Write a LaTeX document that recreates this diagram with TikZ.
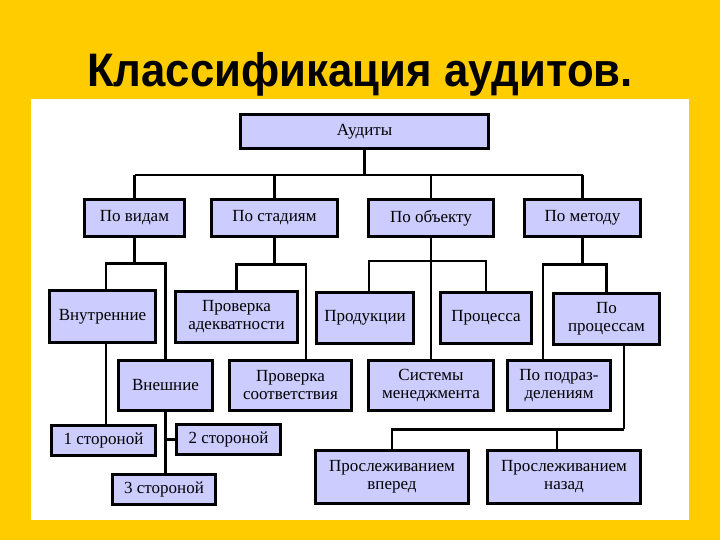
\documentclass[tikz,border=0pt]{standalone}
\usepackage{fontspec}
\setmainfont{Liberation Serif}
\newfontfamily\titlefont[FakeStretch=0.93]{Liberation Sans}
\usetikzlibrary{calc}
\definecolor{slideyellow}{HTML}{FFCC00}
\definecolor{boxlilac}{HTML}{CCCCFF}
\tikzset{
  auditbox/.style={draw=black, fill=boxlilac, line width=3.2pt, align=center,
    inner sep=2pt, font=\fontsize{17}{18}\selectfont},
  link/.style={draw=black, line width=2.8pt},
  slidetitle/.style={font=\titlefont\bfseries\fontsize{47}{47}\selectfont, anchor=base},
}
\begin{document}
\begin{tikzpicture}[x=1pt, y=-1pt]
  \fill[slideyellow] (0,0) rectangle (720,540);
  \useasboundingbox (0,0) rectangle (720,540);
  \fill[white] (31,99) rectangle (689,520);
  \node[slidetitle] (title) at (360,87) {Классификация аудитов.};

  \node[auditbox, minimum width=248pt, minimum height=34pt] (aud) at (364.5,131.5) {Аудиты};

  \node[auditbox, minimum width=100pt, minimum height=37pt] (vid) at (134.5,218) {По видам};
  \node[auditbox, minimum width=126pt, minimum height=37pt] (sta) at (274.5,218) {По стадиям};
  \node[auditbox, minimum width=125pt, minimum height=37pt] (obj) at (431,218)   {По объекту};
  \node[auditbox, minimum width=116pt, minimum height=37pt] (met) at (582.5,218) {По методу};

  \node[auditbox, minimum width=106pt, minimum height=52pt] (vnu)   at (102.5,316.5) {Внутренние};
  \node[auditbox, minimum width=122pt, minimum height=51pt] (adek)  at (236.5,317)   {Проверка\\адекватности};
  \node[auditbox, minimum width=97pt,  minimum height=51pt] (prod)  at (365,318)     {Продукции};
  \node[auditbox, minimum width=91pt,  minimum height=51pt] (proc)  at (486,318)     {Процесса};
  \node[auditbox, minimum width=106pt, minimum height=51pt] (pproc) at (606.5,319)   {По\\процессам};

  \node[auditbox, minimum width=94pt,  minimum height=50pt] (vne)   at (165.5,385.5) {Внешние};
  \node[auditbox, minimum width=122pt, minimum height=50pt] (sootv) at (290.5,385.5) {Проверка\\соответствия};
  \node[auditbox, minimum width=125pt, minimum height=50pt] (sys)   at (431,385.5)   {Системы\\менеджмента};
  \node[auditbox, minimum width=103pt, minimum height=50pt] (podr)  at (559,385.5)   {По подраз-\\делениям};

  \node[auditbox, minimum width=104pt, minimum height=30pt] (odin) at (103.5,440.5) {1 стороной};
  \node[auditbox, minimum width=104pt, minimum height=30pt] (dva)  at (228.5,439.5) {2 стороной};
  \node[auditbox, minimum width=103pt, minimum height=30pt] (tri)  at (164,489.5)   {3 стороной};

  \node[auditbox, minimum width=153pt, minimum height=53pt] (vper)  at (392,477) {Прослеживанием\\вперед};
  \node[auditbox, minimum width=153pt, minimum height=53pt] (nazad) at (564,477) {Прослеживанием\\назад};

  % первый уровень
  \coordinate (bus) at (0,175);
  \draw[link] (aud.south) -- (aud.south |- bus);
  \draw[link] (vid.north |- bus) -- (met.north |- bus);
  \foreach \n in {vid,sta,obj,met}
    \draw[link] (\n.north) -- (\n.north |- bus);

  % по видам
  \draw[link] (vid.south) -- ++(0,25) coordinate (jv);
  \draw[link] ([xshift=3.5pt]vnu.north) |- (jv) -| (vne.north);
  \draw[link] ([xshift=3.5pt]vnu.south) -- ([xshift=3.5pt]vnu.south |- odin.north);
  \draw[link] (vne.south) -- (vne.south |- tri.north);
  \draw[link] (vne.south |- dva.west) -- (dva.west);

  % по стадиям
  \draw[link] (sta.south) -- ++(0,26) coordinate (js);
  \draw[link] (adek.north) |- (js) -| ([xshift=15.5pt]sootv.north);

  % по объекту
  \draw[link] (obj.south) -- (sys.north);
  \draw[link] ([xshift=4pt]prod.north) -- ++(0,-30) -| (proc.north);

  % по методу
  \draw[link] (met.south) -- ++(0,26) coordinate (jm);
  \draw[link] ([xshift=-16pt]podr.north) |- (jm) -| (pproc.north);
  \draw[link] ([xshift=17.5pt]pproc.south) -- ++(0,83) coordinate (jp);
  \draw[link] (vper.north) |- (jp);
  \draw[link] ([xshift=-7pt]nazad.north) -- ([xshift=-7pt]nazad.north |- jp);
\end{tikzpicture}
\end{document}
